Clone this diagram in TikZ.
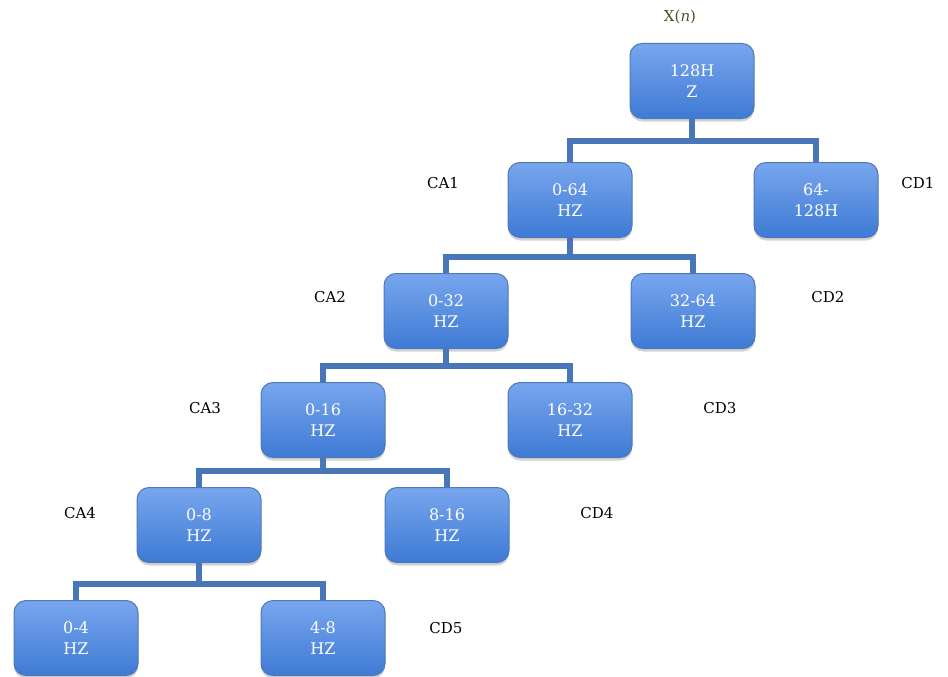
\documentclass[tikz,border=0pt]{standalone}
\usepackage{fontspec}
\setmainfont{DejaVu Serif}
\usetikzlibrary{shadows}
\definecolor{boxtop}{RGB}{120,166,238}
\definecolor{boxbot}{RGB}{62,122,212}
\definecolor{boxedge}{RGB}{78,120,186}
\definecolor{linkblue}{RGB}{72,118,184}
\definecolor{signal}{RGB}{62,88,36}
\begin{document}
\begin{tikzpicture}[x=1pt,y=-1pt,
  band/.style={rounded corners=12pt, draw=boxedge, line width=1pt,
    top color=boxtop, bottom color=boxbot,
    minimum width=124pt, minimum height=75pt, inner sep=0pt,
    align=center, text=white, font=\fontsize{16}{21}\selectfont,
    drop shadow={opacity=0.35, shadow xshift=0pt, shadow yshift=-3pt}},
  tag/.style={font=\fontsize{15}{18}\selectfont, text=black},
  link/.style={draw=linkblue, line width=6pt}]
\useasboundingbox (0,0) rectangle (948,677);

% filter bank nodes
\node[band] (root) at (692,81) {128H\\Z};
\node[band] (a1) at (570,200) {0-64\\HZ};
\node[band] (d1) at (816,200) {64-\\128H};
\node[band] (a2) at (446,311) {0-32\\HZ};
\node[band] (d2) at (693,311) {32-64\\HZ};
\node[band] (a3) at (323,420) {0-16\\HZ};
\node[band] (d3) at (570,420) {16-32\\HZ};
\node[band] (a4) at (199,525) {0-8\\HZ};
\node[band] (d4) at (447,525) {8-16\\HZ};
\node[band] (a5) at (76,638) {0-4\\HZ};
\node[band] (d5) at (323,638) {4-8\\HZ};

% split points
\coordinate (j1) at (692,141);
\coordinate (j2) at (570,257);
\coordinate (j3) at (446,366);
\coordinate (j4) at (323,471);
\coordinate (j5) at (199,584);

\draw[link] (root.south) -- (j1);
\draw[link] (a1.north) |- (j1) -| (d1.north);
\draw[link] (a1.south) -- (j2);
\draw[link] (a2.north) |- (j2) -| (d2.north);
\draw[link] (a2.south) -- (j3);
\draw[link] (a3.north) |- (j3) -| (d3.north);
\draw[link] (a3.south) -- (j4);
\draw[link] (a4.north) |- (j4) -| (d4.north);
\draw[link] (a4.south) -- (j5);
\draw[link] (a5.north) |- (j5) -| (d5.north);

% coefficient labels
\node[font=\fontsize{15}{18}\selectfont, text=signal] (xn) at (680,17) {X(\textit{n})};
\node[tag] (ca1) at (443,183) {CA1};
\node[tag] (cd1) at (918,183) {CD1};
\node[tag] (ca2) at (330,297) {CA2};
\node[tag] (cd2) at (828,297) {CD2};
\node[tag] (ca3) at (205,408) {CA3};
\node[tag] (cd3) at (720,408) {CD3};
\node[tag] (ca4) at (80,513) {CA4};
\node[tag] (cd4) at (597,513) {CD4};
\node[tag] (cd5) at (446,628) {CD5};
\end{tikzpicture}
\end{document}
